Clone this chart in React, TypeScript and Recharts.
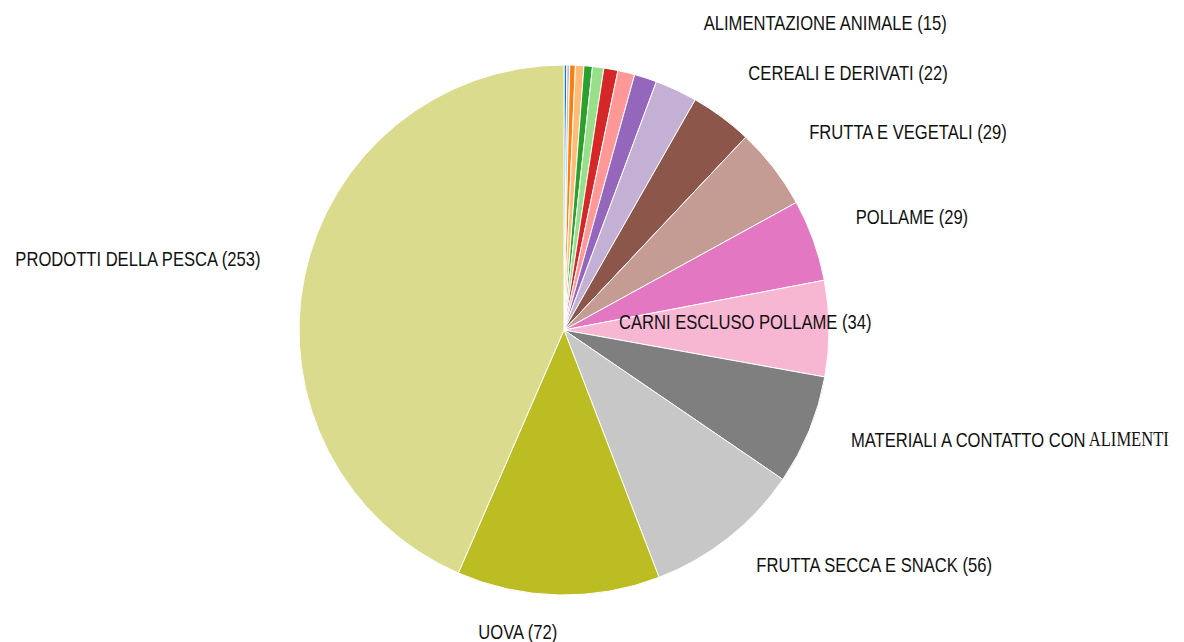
import { PieChart, Pie, Cell } from "recharts";

const categories = [
  "ADDITIVI E AROMI",
  "BEVANDE NON ALCOLICHE",
  "MIELE E PAPPA REALE",
  "CACAO E PREPARATI",
  "PIATTI PRONTI",
  "GRASSI E OLI",
  "LATTE E DERIVATI",
  "ERBE E SPEZIE",
  "MOLLUSCHI BIVALVI",
  "ALIMENTAZIONE ANIMALE",
  "CEREALI E DERIVATI",
  "FRUTTA E VEGETALI",
  "POLLAME",
  "CARNI ESCLUSO POLLAME",
  "MATERIALI A CONTATTO CON  ALIMENTI",
  "FRUTTA SECCA E SNACK",
  "UOVA",
  "PRODOTTI DELLA PESCA",
];

const counts = [1, 1, 2, 3, 3, 4, 5, 6, 8, 15, 22, 29, 29, 34, 39, 56, 72, 253];

const colors = [
  "#1f77b4", "#aec7e8", "#ff7f0e", "#ffbb78", "#2ca02c", "#98df8a",
  "#d62728", "#ff9896", "#9467bd", "#c5b0d5", "#8c564b", "#c49c94",
  "#e377c2", "#f7b6d2", "#7f7f7f", "#c7c7c7", "#bcbd22", "#dbdb8d",
];

const data = categories.map((name, i) => ({ name, value: counts[i] }));

const RAD = Math.PI / 180;
// a couple of labels sit off the common ring in the original
const labelRing: Record<string, number> = {
  "ALIMENTAZIONE ANIMALE": 330,
  "CARNI ESCLUSO POLLAME": 55,
};

const renderLabel = (p: any) => {
  const { cx, cy, midAngle, outerRadius, name, value } = p;
  if (value < 10) return null;
  const r = labelRing[name] ?? outerRadius + 45;
  const x = cx + r * Math.cos(-midAngle * RAD);
  const y = cy + r * Math.sin(-midAngle * RAD) - 8;
  const anchor = x >= cx ? "start" : "end";
  const parts = String(name).split("  ");
  return (
    <text
      x={0}
      y={0}
      transform={`translate(${x},${y}) scale(0.83,1)`}
      textAnchor={anchor}
      dominantBaseline="central"
      fill="#111"
      fontSize={20}
      fontFamily="'Liberation Sans', Arial, sans-serif"
    >
      {parts[0]}
      {parts[1] ? (
        <tspan fontFamily="'Liberation Serif', serif"> {parts[1]}</tspan>
      ) : (
        ` (${value})`
      )}
    </text>
  );
};

export default function App() {
  return (
    <div style={{ width: 1184, height: 642, background: "#fff" }}>
      <style>{`body{margin:0}`}</style>
      <PieChart width={1184} height={642} margin={{ top: 0, right: 0, bottom: 0, left: 0 }}>
        <Pie
          data={data}
          dataKey="value"
          nameKey="name"
          cx={564}
          cy={330}
          outerRadius={265}
          startAngle={90}
          endAngle={-270}
          stroke="#fff"
          strokeWidth={1}
          label={renderLabel}
          labelLine={false}
          isAnimationActive={false}
        >
          {data.map((d, i) => (
            <Cell key={d.name} fill={colors[i]} />
          ))}
        </Pie>
      </PieChart>
    </div>
  );
}
